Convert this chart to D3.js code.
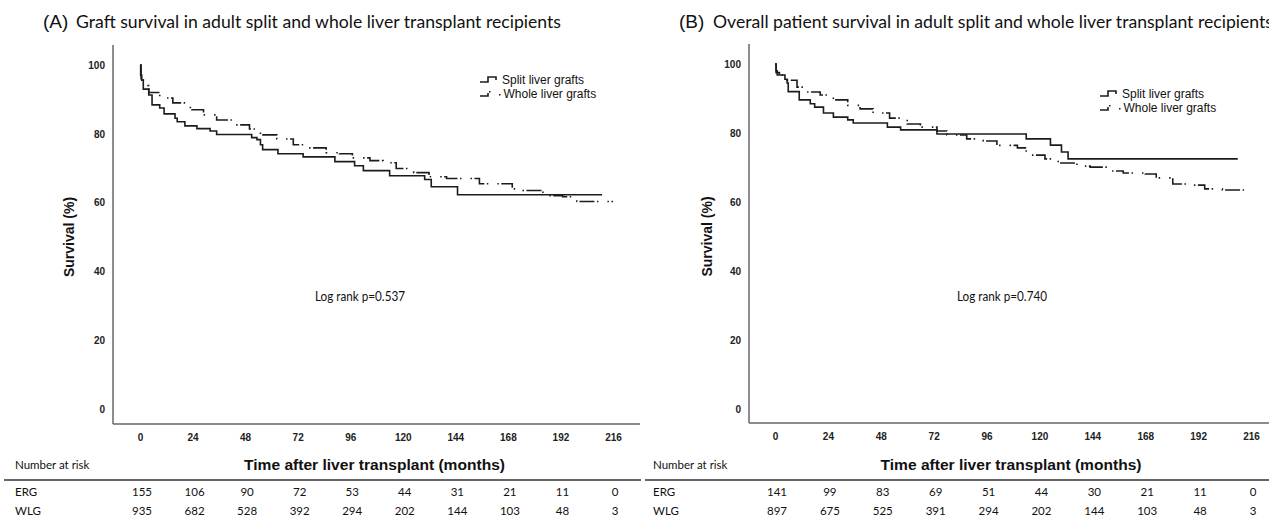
<!DOCTYPE html>
<html><head><meta charset="utf-8">
<script src="https://cdn.jsdelivr.net/npm/d3@7"></script>
<style>body{margin:0;background:#fff;} svg{display:block;}</style>
</head><body>
<svg id="c" width="1269" height="519"></svg>
<script>
// ---------- data ----------
const timeTicks = [0, 24, 48, 72, 96, 120, 144, 168, 192, 216];
const survTicks = [0, 20, 40, 60, 80, 100];

// Panel A: graft survival (months, %)
const splitA_t = [0, 0.3, 0.8, 1.5, 4, 5.5, 9, 11, 16, 17, 20.5, 26, 32, 35, 51, 53.4, 55, 56, 63, 74.5, 89, 98, 102, 114, 130, 133, 145, 211];
const splitA_s = [100, 97, 95.6, 93, 91.3, 88.4, 87.5, 85.8, 84.5, 83.5, 82.3, 81.5, 80.8, 79.8, 78.9, 78.3, 76.8, 75.4, 74.2, 73.3, 71.9, 70.7, 69.3, 67.8, 66.7, 64.6, 62.3, 62.3];
const wholeA_t = [0, 0.5, 1.5, 4, 9, 15, 23, 29, 35, 42.5, 50, 55, 62.5, 70, 76, 85, 91, 97, 105, 111, 117, 125, 132, 140, 155, 170, 175, 184, 193, 199.5, 216];
const wholeA_s = [100, 96, 94, 92, 90.4, 89, 87, 85.5, 84, 82.6, 81.4, 79.7, 78.5, 76.8, 75.9, 74.5, 74.2, 73, 72.2, 71.6, 69.9, 68.7, 67.5, 67, 65.5, 64, 63.5, 62, 61.7, 60.3, 60.3];

// Panel B: overall patient survival
const splitB_t = [0, 0.5, 1, 4.5, 5.5, 6, 11, 16, 18, 22, 26.5, 33, 35.5, 51, 57, 73.5, 114, 125, 130, 133, 210];
const splitB_s = [100, 98, 96.8, 95.6, 94.5, 92, 89.6, 88.5, 87.5, 85.8, 84.6, 83.8, 82.9, 81.7, 80.9, 79.7, 78.3, 76.5, 74.5, 72.5, 72.5];
const wholeB_t = [0, 0.5, 2, 5.5, 10, 14.5, 20.5, 26.5, 33, 38.6, 44.5, 52, 60, 66, 73.5, 78, 87, 94.5, 100.7, 110, 114, 122.5, 128.5, 137, 143, 152, 158, 168, 173, 180.5, 187, 195, 203, 214];
const wholeB_s = [100, 97.5, 96.8, 95.3, 93.3, 91.9, 91, 89.6, 88, 87, 85.8, 84.3, 82.6, 81.7, 80.6, 79.4, 78.3, 77.7, 76.4, 75.7, 73.6, 72.5, 71.3, 70.4, 70.1, 69, 68.4, 68.1, 67, 65.2, 64.9, 63.8, 63.5, 63.5];

// Numbers at risk
const riskRows = ["ERG", "WLG"];
const ergA = [155, 106, 90, 72, 53, 44, 31, 21, 11, 0];
const wlgA = [935, 682, 528, 392, 294, 202, 144, 103, 48, 3];
const ergB = [141, 99, 83, 69, 51, 44, 30, 21, 11, 0];
const wlgB = [897, 675, 525, 391, 294, 202, 144, 103, 48, 3];

const legendLabels = ["Split liver grafts", "Whole liver grafts"];
const titleA = "Graft survival in adult split and whole liver transplant recipients";
const titleB = "Overall patient survival in adult split and whole liver transplant recipients";
const logRankA = "Log rank p=0.537";
const logRankB = "Log rank p=0.740";

// ---------- drawing ----------
const svg = d3.select("#c");
const ARIAL = "'Liberation Sans', Arial, sans-serif";
const CAL = "Lato, 'Open Sans', sans-serif";
const LINE = "#1c1c1c";
const DASH = "15,2.5,1.5,9,1.5,2.5";

function zip(t, s) { return t.map((v, i) => [v, s[i]]); }

function panel(o) {
  const g = svg.append("g");
  const x = d3.scaleLinear().domain([0, 216]).range([o.x0, o.x1]);
  const y = d3.scaleLinear().domain([0, 100]).range([o.y0, o.y100]);

  // title
  g.append("text").attr("x", o.labX).attr("y", 28)
    .attr("font-family", ARIAL).attr("font-size", 19).attr("fill", "#111").text(o.lab);
  g.append("text").attr("x", o.titleX).attr("y", 28)
    .attr("font-family", CAL).attr("font-size", 17).attr("fill", "#111")
    .attr("textLength", o.titleLen).attr("lengthAdjust", "spacingAndGlyphs").text(o.title);

  // axes (labels only, SPSS style)
  const ax = g.append("g").attr("transform", `translate(0,${o.axisY})`)
    .call(d3.axisBottom(x).tickValues(timeTicks).tickSize(0).tickPadding(10));
  const ay = g.append("g").attr("transform", `translate(${o.axisX},0)`)
    .call(d3.axisLeft(y).tickValues(survTicks).tickSize(0).tickPadding(8));
  [ax, ay].forEach(a => {
    a.select(".domain").remove();
    a.selectAll("text").attr("font-family", ARIAL).attr("font-size", 10)
      .attr("font-weight", "bold").attr("fill", "#222");
  });
  // axis lines
  g.append("line").attr("x1", o.axisX).attr("x2", o.axisX)
    .attr("y1", y(100) - 20).attr("y2", o.axisY)
    .attr("stroke", "#666").attr("stroke-width", 1.5);
  g.append("line").attr("x1", o.axisX).attr("x2", o.axisEnd)
    .attr("y1", o.axisY).attr("y2", o.axisY)
    .attr("stroke", "#666").attr("stroke-width", 1.5);

  // axis titles
  g.append("text").attr("transform", `translate(${o.ylabX},${(y(0) + y(100)) / 2}) rotate(-90)`)
    .attr("text-anchor", "middle").attr("dy", "0.35em")
    .attr("font-family", ARIAL).attr("font-weight", "bold").attr("font-size", 14)
    .attr("fill", "#111").text("Survival (%)");
  g.append("text").attr("x", (x(0) + x(216)) / 2 - 2).attr("y", 470)
    .attr("text-anchor", "middle").attr("font-family", ARIAL).attr("font-weight", "bold")
    .attr("font-size", 15).attr("textLength", 261).attr("lengthAdjust", "spacingAndGlyphs")
    .attr("fill", "#111").text("Time after liver transplant (months)");

  // curves
  const line = d3.line().x(d => x(d[0])).y(d => y(d[1])).curve(d3.curveStepAfter);
  g.append("path").datum(zip(o.wt, o.ws)).attr("d", line)
    .attr("fill", "none").attr("stroke", LINE).attr("stroke-width", 1.6)
    .attr("stroke-dasharray", DASH);
  g.append("path").datum(zip(o.st, o.ss)).attr("d", line)
    .attr("fill", "none").attr("stroke", LINE).attr("stroke-width", 1.6);

  // legend
  const lx = o.legX, ly = o.legY;
  g.append("path").attr("d", `M${lx},${ly + 2}H${lx + 8}V${ly - 3}H${lx + 16}V${ly}`)
    .attr("fill", "none").attr("stroke", LINE).attr("stroke-width", 1.6);
  g.append("path").attr("d", `M${lx},${ly + 16}H${lx + 8}V${ly + 13}`)
    .attr("fill", "none").attr("stroke", LINE).attr("stroke-width", 1.6);
  g.append("rect").attr("x", lx + 9).attr("y", ly + 11).attr("width", 1.5).attr("height", 1.5).attr("fill", LINE);
  g.append("rect").attr("x", lx + 19).attr("y", ly + 14).attr("width", 1.5).attr("height", 1.5).attr("fill", LINE);
  legendLabels.forEach((t, i) => {
    g.append("text").attr("x", lx + 22 + (i ? 1.5 : 0)).attr("y", ly + 4 + i * 14)
      .attr("font-family", ARIAL).attr("font-size", 12).attr("fill", "#111").text(t);
  });

  // log rank
  g.append("text").attr("x", o.lrX).attr("y", 301)
    .attr("font-family", CAL).attr("font-size", 13.5).attr("fill", "#111")
    .attr("textLength", 90).attr("lengthAdjust", "spacingAndGlyphs").text(o.logRank);

  // number at risk table
  g.append("text").attr("x", o.tabX).attr("y", 469)
    .attr("font-family", CAL).attr("font-size", 11.5).attr("fill", "#111").text("Number at risk");
  g.append("line").attr("x1", o.tabL).attr("x2", o.tabR).attr("y1", 480).attr("y2", 480)
    .attr("stroke", "#333").attr("stroke-width", 1.6);
  [o.erg, o.wlg].forEach((row, r) => {
    const yy = 496 + r * 19;
    g.append("text").attr("x", o.tabX).attr("y", yy)
      .attr("font-family", CAL).attr("font-size", 11.5).attr("fill", "#111").text(riskRows[r]);
    g.selectAll(null).data(row).enter().append("text")
      .attr("x", (d, i) => x(timeTicks[i]) + 2).attr("y", yy).attr("text-anchor", "middle")
      .attr("font-family", CAL).attr("font-size", 11.5).attr("fill", "#111").text(d => d);
  });
}

panel({
  x0: 140, x1: 613, y0: 409, y100: 65, axisX: 113, axisY: 424, axisEnd: 640,
  lab: "(A)", labX: 43, title: titleA, titleX: 76, titleLen: 485,
  ylabX: 69, legX: 480, legY: 80, lrX: 315, logRank: logRankA,
  tabX: 15, tabL: 4, tabR: 641,
  st: splitA_t, ss: splitA_s, wt: wholeA_t, ws: wholeA_s, erg: ergA, wlg: wlgA
});
panel({
  x0: 775, x1: 1251, y0: 409, y100: 64, axisX: 749, axisY: 423, axisEnd: 1269,
  lab: "(B)", labX: 679, title: titleB, titleX: 713, titleLen: 560,
  ylabX: 707, legX: 1100, legY: 94, lrX: 957, logRank: logRankB,
  tabX: 653, tabL: 645, tabR: 1269,
  st: splitB_t, ss: splitB_s, wt: wholeB_t, ws: wholeB_s, erg: ergB, wlg: wlgB
});
</script>
</body></html>
